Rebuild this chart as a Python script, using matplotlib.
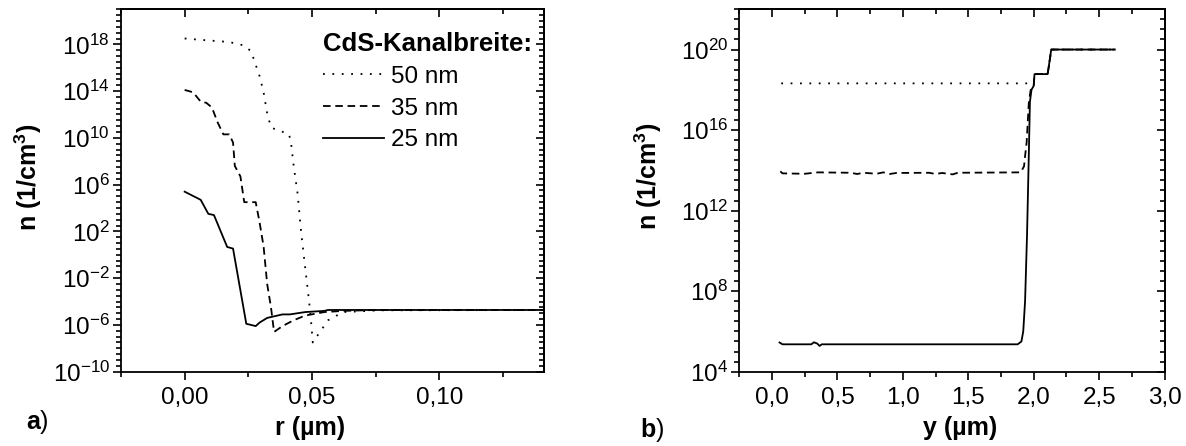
import numpy as np
import matplotlib
matplotlib.use("Agg")
import matplotlib.pyplot as plt
from matplotlib.ticker import FixedLocator, FuncFormatter, NullFormatter

plt.rcParams['font.family'] = ['Liberation Sans', 'DejaVu Sans']
plt.rcParams['mathtext.fontset'] = 'custom'
plt.rcParams['mathtext.rm'] = 'Liberation Sans'
plt.rcParams['mathtext.bf'] = 'Liberation Sans:bold'
plt.rcParams['mathtext.it'] = 'Liberation Sans:italic'

# a) radial profiles, r in um, log10(n) in 1/cm^3
r_50 = [0, 0.0055, 0.0115, 0.0175, 0.0234, 0.0261, 0.0272, 0.0294, 0.031, 0.0324,
        0.0339, 0.0369, 0.0406, 0.0416, 0.0428, 0.0443, 0.0458, 0.0473, 0.0488,
        0.0496, 0.0503, 0.0525, 0.0563, 0.0622, 0.0772, 0.15]
lgn_50 = [18.5, 18.4, 18.3, 18.2, 17.9, 17.4, 16.7, 15.3, 13.9, 12.1,
          10.9, 10.6, 10.4, 9.9, 7.6, 5.3, 1.8, -1.05, -3.9,
          -5.6, -7.5, -6.8, -5.6, -4.9, -4.75, -4.72]

r_35 = [0, 0.0033, 0.0063, 0.0085, 0.0107, 0.013, 0.0152, 0.0175, 0.019, 0.0197,
        0.0219, 0.0234, 0.0257, 0.0279, 0.0294, 0.031, 0.0324, 0.0339, 0.0351,
        0.0384, 0.0428, 0.0473, 0.0548, 0.0622, 0.075, 0.15]
lgn_35 = [14.1, 13.9, 13.1, 13.0, 12.6, 11.3, 10.3, 10.3, 9.6, 7.6,
          6.7, 4.5, 4.5, 4.5, 2.8, 0.7, -2.5, -4.5, -6.6,
          -6.1, -5.6, -5.2, -4.9, -4.8, -4.72, -4.72]

r_25 = [0, 0.0063, 0.0093, 0.0115, 0.0167, 0.019, 0.0242, 0.0279, 0.0294, 0.0324,
        0.0384, 0.0413, 0.0473, 0.0548, 0.0563, 0.15]
lgn_25 = [5.4, 4.7, 3.5, 3.4, 0.67, 0.53, -5.9, -6.1, -5.8, -5.4,
          -5.1, -5.1, -4.9, -4.8, -4.72, -4.72]

# b) profiles along the channel, y in um
y_50 = [0.07, 1.975, 2.0, 2.006, 2.106, 2.114, 2.134, 2.62]
lgy_50 = [18.32, 18.32, 18.35, 18.78, 18.78, 19.1, 20.0, 20.0]

y_35 = [0.063, 0.08, 0.25, 0.35, 0.6, 0.65, 0.7, 0.8, 0.85, 0.9, 0.95, 1.2, 1.25,
        1.3, 1.38, 1.42, 1.9, 1.926, 1.934, 1.946, 1.963, 1.977, 2.0, 2.006,
        2.106, 2.114, 2.134, 2.62]
lgy_35 = [13.95, 13.85, 13.83, 13.9, 13.88, 13.82, 13.88, 13.83, 13.9, 13.82, 13.87,
          13.88, 13.82, 13.87, 13.8, 13.88, 13.9, 14.2, 14.7, 15.4, 17.4, 18.0,
          18.2, 18.78, 18.78, 19.1, 20.0, 20.0]

y_25 = [0.057, 0.08, 0.3, 0.32, 0.345, 0.363, 0.38, 1.877, 1.906, 1.92, 1.934,
        1.949, 1.963, 1.971, 1.983, 2.0, 2.006, 2.106, 2.114, 2.134, 2.62]
lgy_25 = [5.45, 5.36, 5.36, 5.46, 5.4, 5.28, 5.36, 5.36, 5.5, 6.0, 7.5,
          10.8, 14.9, 17.4, 18.0, 18.2, 18.78, 18.78, 19.1, 20.0, 20.0]

labels = ['50 nm', '35 nm', '25 nm']
styles = [(0, (1, 4.2)), (0, (4.2, 2.6)), '-']


def comma(v, pos, nd):
    return f'{v:.{nd}f}'.replace('.', ',')


def power(v, pos):
    return r'$\mathregular{10^{%d}}$' % round(np.log10(v))


def setup(ax, xmaj, xmin, ymaj, ymin, nd):
    ax.set_yscale('log')
    ax.xaxis.set_major_locator(FixedLocator(xmaj))
    ax.xaxis.set_minor_locator(FixedLocator(xmin))
    ax.yaxis.set_major_locator(FixedLocator(ymaj))
    ax.yaxis.set_minor_locator(FixedLocator(ymin))
    ax.xaxis.set_major_formatter(FuncFormatter(lambda v, p: comma(v, p, nd)))
    ax.yaxis.set_major_formatter(FuncFormatter(power))
    ax.yaxis.set_minor_formatter(NullFormatter())
    ax.tick_params(which='both', direction='out', width=1.2, labelsize=17.5)
    ax.tick_params(which='major', length=6)
    ax.tick_params(which='minor', length=3.5)
    ax.tick_params(axis='x', pad=5)
    ax.tick_params(axis='y', pad=2)
    for s in ax.spines.values():
        s.set_linewidth(1.3)
    # mirrored ticks pointing inwards on top and right
    top = ax.secondary_xaxis('top')
    top.xaxis.set_major_locator(FixedLocator(xmaj))
    top.xaxis.set_minor_locator(FixedLocator(xmin))
    top.tick_params(which='both', direction='in', width=1.2, labeltop=False)
    top.tick_params(which='major', length=6)
    top.tick_params(which='minor', length=3.5)
    right = ax.secondary_yaxis('right')
    right.yaxis.set_major_locator(FixedLocator(ymaj))
    right.yaxis.set_minor_locator(FixedLocator(ymin))
    right.yaxis.set_minor_formatter(NullFormatter())
    right.tick_params(which='both', direction='in', width=1.2, labelright=False)
    right.tick_params(which='major', length=6)
    right.tick_params(which='minor', length=3.5)
    for sec in (top, right):
        for s in sec.spines.values():
            s.set_linewidth(1.3)


fig = plt.figure(figsize=(11.86, 4.46), dpi=100)
ax1 = fig.add_axes([0.102, 0.1666, 0.3565, 0.8126])
ax2 = fig.add_axes([0.6234, 0.1666, 0.3585, 0.8126])

# panel a
for r, lg, lab, ls in zip([r_50, r_35, r_25], [lgn_50, lgn_35, lgn_25], labels, styles):
    ax1.plot(r, 10 ** np.array(lg), color='black', lw=1.3, ls=ls, label=lab)
ax1.set_xlim(-0.025, 0.141)
ax1.set_ylim(1e-10, 1e21)
setup(ax1, [0, 0.05, 0.10], np.arange(-0.025, 0.15, 0.025),
      10.0 ** np.arange(-10, 19, 4), 10.0 ** np.arange(-10, 21.01, 0.5), 2)

leg = ax1.legend(title='CdS-Kanalbreite:', loc='upper left', bbox_to_anchor=(0.478, 0.937),
                 frameon=False, fontsize=17.5, handlelength=2.5, handletextpad=0.3,
                 labelspacing=0.4, alignment='left', borderaxespad=0, borderpad=0)
leg.get_title().set_fontsize(18.5)
leg.get_title().set_fontweight('bold')

ax1.text(0.447, -0.155, 'r (µm)', transform=ax1.transAxes, ha='center', va='center',
         fontsize=18, fontweight='bold')
ax1.text(-0.22, 0.537, r'$\mathbf{n\ (1/cm^{3})}$', transform=ax1.transAxes, rotation=90,
         ha='center', va='center', fontsize=18)
fig.text(0.022, 0.054, r'$\mathbf{a}$)', ha='left', va='center', fontsize=18)

# panel b
for y, lg, ls in zip([y_50, y_35, y_25], [lgy_50, lgy_35, lgy_25], styles):
    ax2.plot(y, 10 ** np.array(lg), color='black', lw=1.3, ls=ls)
ax2.set_xlim(-0.25, 3.0)
ax2.set_ylim(1e4, 1e22)
setup(ax2, np.arange(0, 3.01, 0.5), np.arange(-0.25, 3.01, 0.25),
      10.0 ** np.arange(4, 21, 4), 10.0 ** np.arange(4, 22.01, 0.5), 1)

ax2.text(0.519, -0.155, 'y (µm)', transform=ax2.transAxes, ha='center', va='center',
         fontsize=18, fontweight='bold')
ax2.text(-0.213, 0.54, r'$\mathbf{n\ (1/cm^{3})}$', transform=ax2.transAxes, rotation=90,
         ha='center', va='center', fontsize=18)
fig.text(0.540, 0.035, r'$\mathbf{b}$)', ha='left', va='center', fontsize=18)

fig.savefig('out.png', dpi=100)
